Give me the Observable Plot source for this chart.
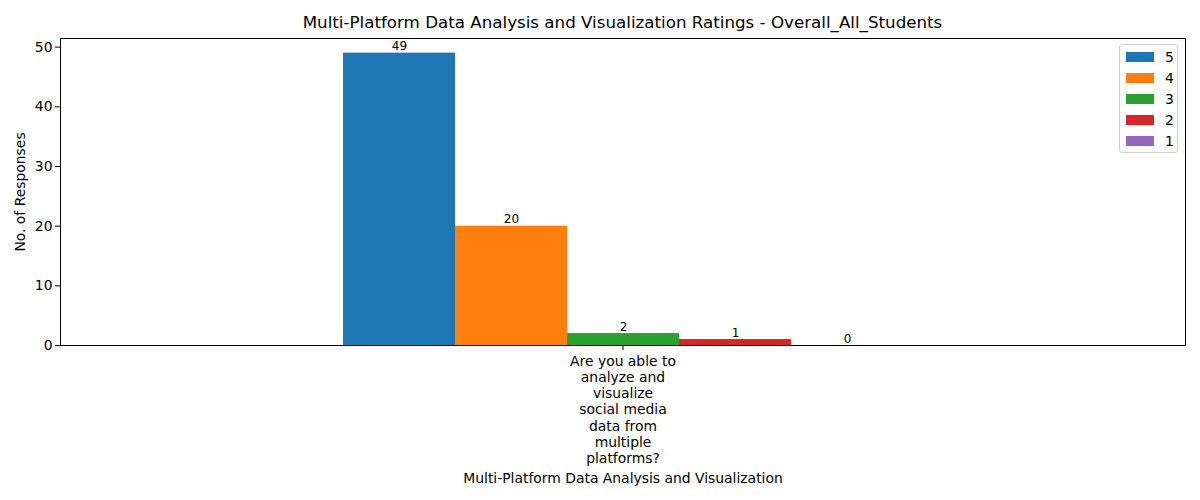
<!DOCTYPE html>
<html>
<head>
<meta charset="utf-8">
<script src="https://cdn.jsdelivr.net/npm/d3@7"></script>
<script src="https://cdn.jsdelivr.net/npm/@observablehq/plot@0.6"></script>
<style>
  html, body { margin: 0; padding: 0; background: white; }
  #wrap { position: relative; width: 1200px; height: 500px; font-family: "DejaVu Sans", sans-serif; color: black; }
  #title { position: absolute; left: 60px; width: 1125px; top: 12px; text-align: center; font-size: 16.7px; white-space: nowrap; }
  #legend { position: absolute; left: 1119px; top: 44px; width: 59px; height: 109px; border: 1px solid #d0d0d0; border-radius: 3px; background: rgba(255,255,255,0.8); box-sizing: border-box; padding-top: 1px; }
  .row { display: flex; align-items: center; height: 21px; font-size: 13.9px; }
  .sw { width: 28px; height: 10px; margin-left: 6px; margin-right: 11px; }
</style>
</head>
<body>
<div id="wrap">
  <div id="chart"></div>
  <div id="title"></div>
  <div id="legend"></div>
</div>
<script>
const titleText = "Multi-Platform Data Analysis and Visualization Ratings - Overall_All_Students";
const xLabel = "Multi-Platform Data Analysis and Visualization";
const yLabel = "No. of Responses";
const questions = ["Are you able to analyze and visualize social media data from multiple platforms?"];
const ratings = ["5", "4", "3", "2", "1"];
const counts = [49, 20, 2, 1, 0];
const colors = ["#1f77b4", "#ff7f0e", "#2ca02c", "#d62728", "#9467bd"];
const yTicks = [0, 10, 20, 30, 40, 50];

const data = ratings.map((r, i) => ({question: questions[0], rating: r, count: counts[i]}));

function wrap(s, width) {
  const words = s.split(" ");
  const lines = [];
  let cur = "";
  for (const w of words) {
    if (!cur) cur = w;
    else if ((cur + " " + w).length <= width) cur += " " + w;
    else { lines.push(cur); cur = w; }
  }
  if (cur) lines.push(cur);
  return lines.join("\n");
}

const chart = Plot.plot({
  width: 1200,
  height: 500,
  marginLeft: 60,
  marginRight: 15,
  marginTop: 38,
  marginBottom: 155,
  style: {fontFamily: "DejaVu Sans, sans-serif", fontSize: "13.9px", color: "black", background: "white"},
  fx: {domain: questions, padding: 0},
  x: {domain: ratings, paddingInner: 0, paddingOuter: 2.52, axis: null},
  y: {domain: [0, 51.45]},
  color: {domain: ratings, range: colors},
  marks: [
    Plot.barY(data, {fx: "question", x: "rating", y: "count", fill: "rating"}),
    Plot.text(data, {fx: "question", x: "rating", y: "count", text: d => String(d.count), lineAnchor: "bottom", dy: -3, fontSize: 12, fill: "black"}),
    Plot.frame({stroke: "black", strokeWidth: 1}),
    Plot.axisY({ticks: yTicks, tickSize: 5, tickPadding: 3, fontSize: 13.9, label: yLabel, labelAnchor: "center", labelArrow: false, labelOffset: 45}),
    Plot.axisFx({anchor: "bottom", tickSize: 5, tickPadding: 3.5, fontSize: 13.9, lineHeight: 1.17, tickFormat: d => wrap(d, 15), label: xLabel, labelAnchor: "center", labelOffset: 137})
  ]
});
document.getElementById("chart").appendChild(chart);
document.getElementById("title").textContent = titleText;

const legend = document.getElementById("legend");
ratings.forEach((r, i) => {
  const row = document.createElement("div");
  row.className = "row";
  const sw = document.createElement("div");
  sw.className = "sw";
  sw.style.background = colors[i];
  const lab = document.createElement("span");
  lab.textContent = r;
  row.appendChild(sw);
  row.appendChild(lab);
  legend.appendChild(row);
});
</script>
</body>
</html>
